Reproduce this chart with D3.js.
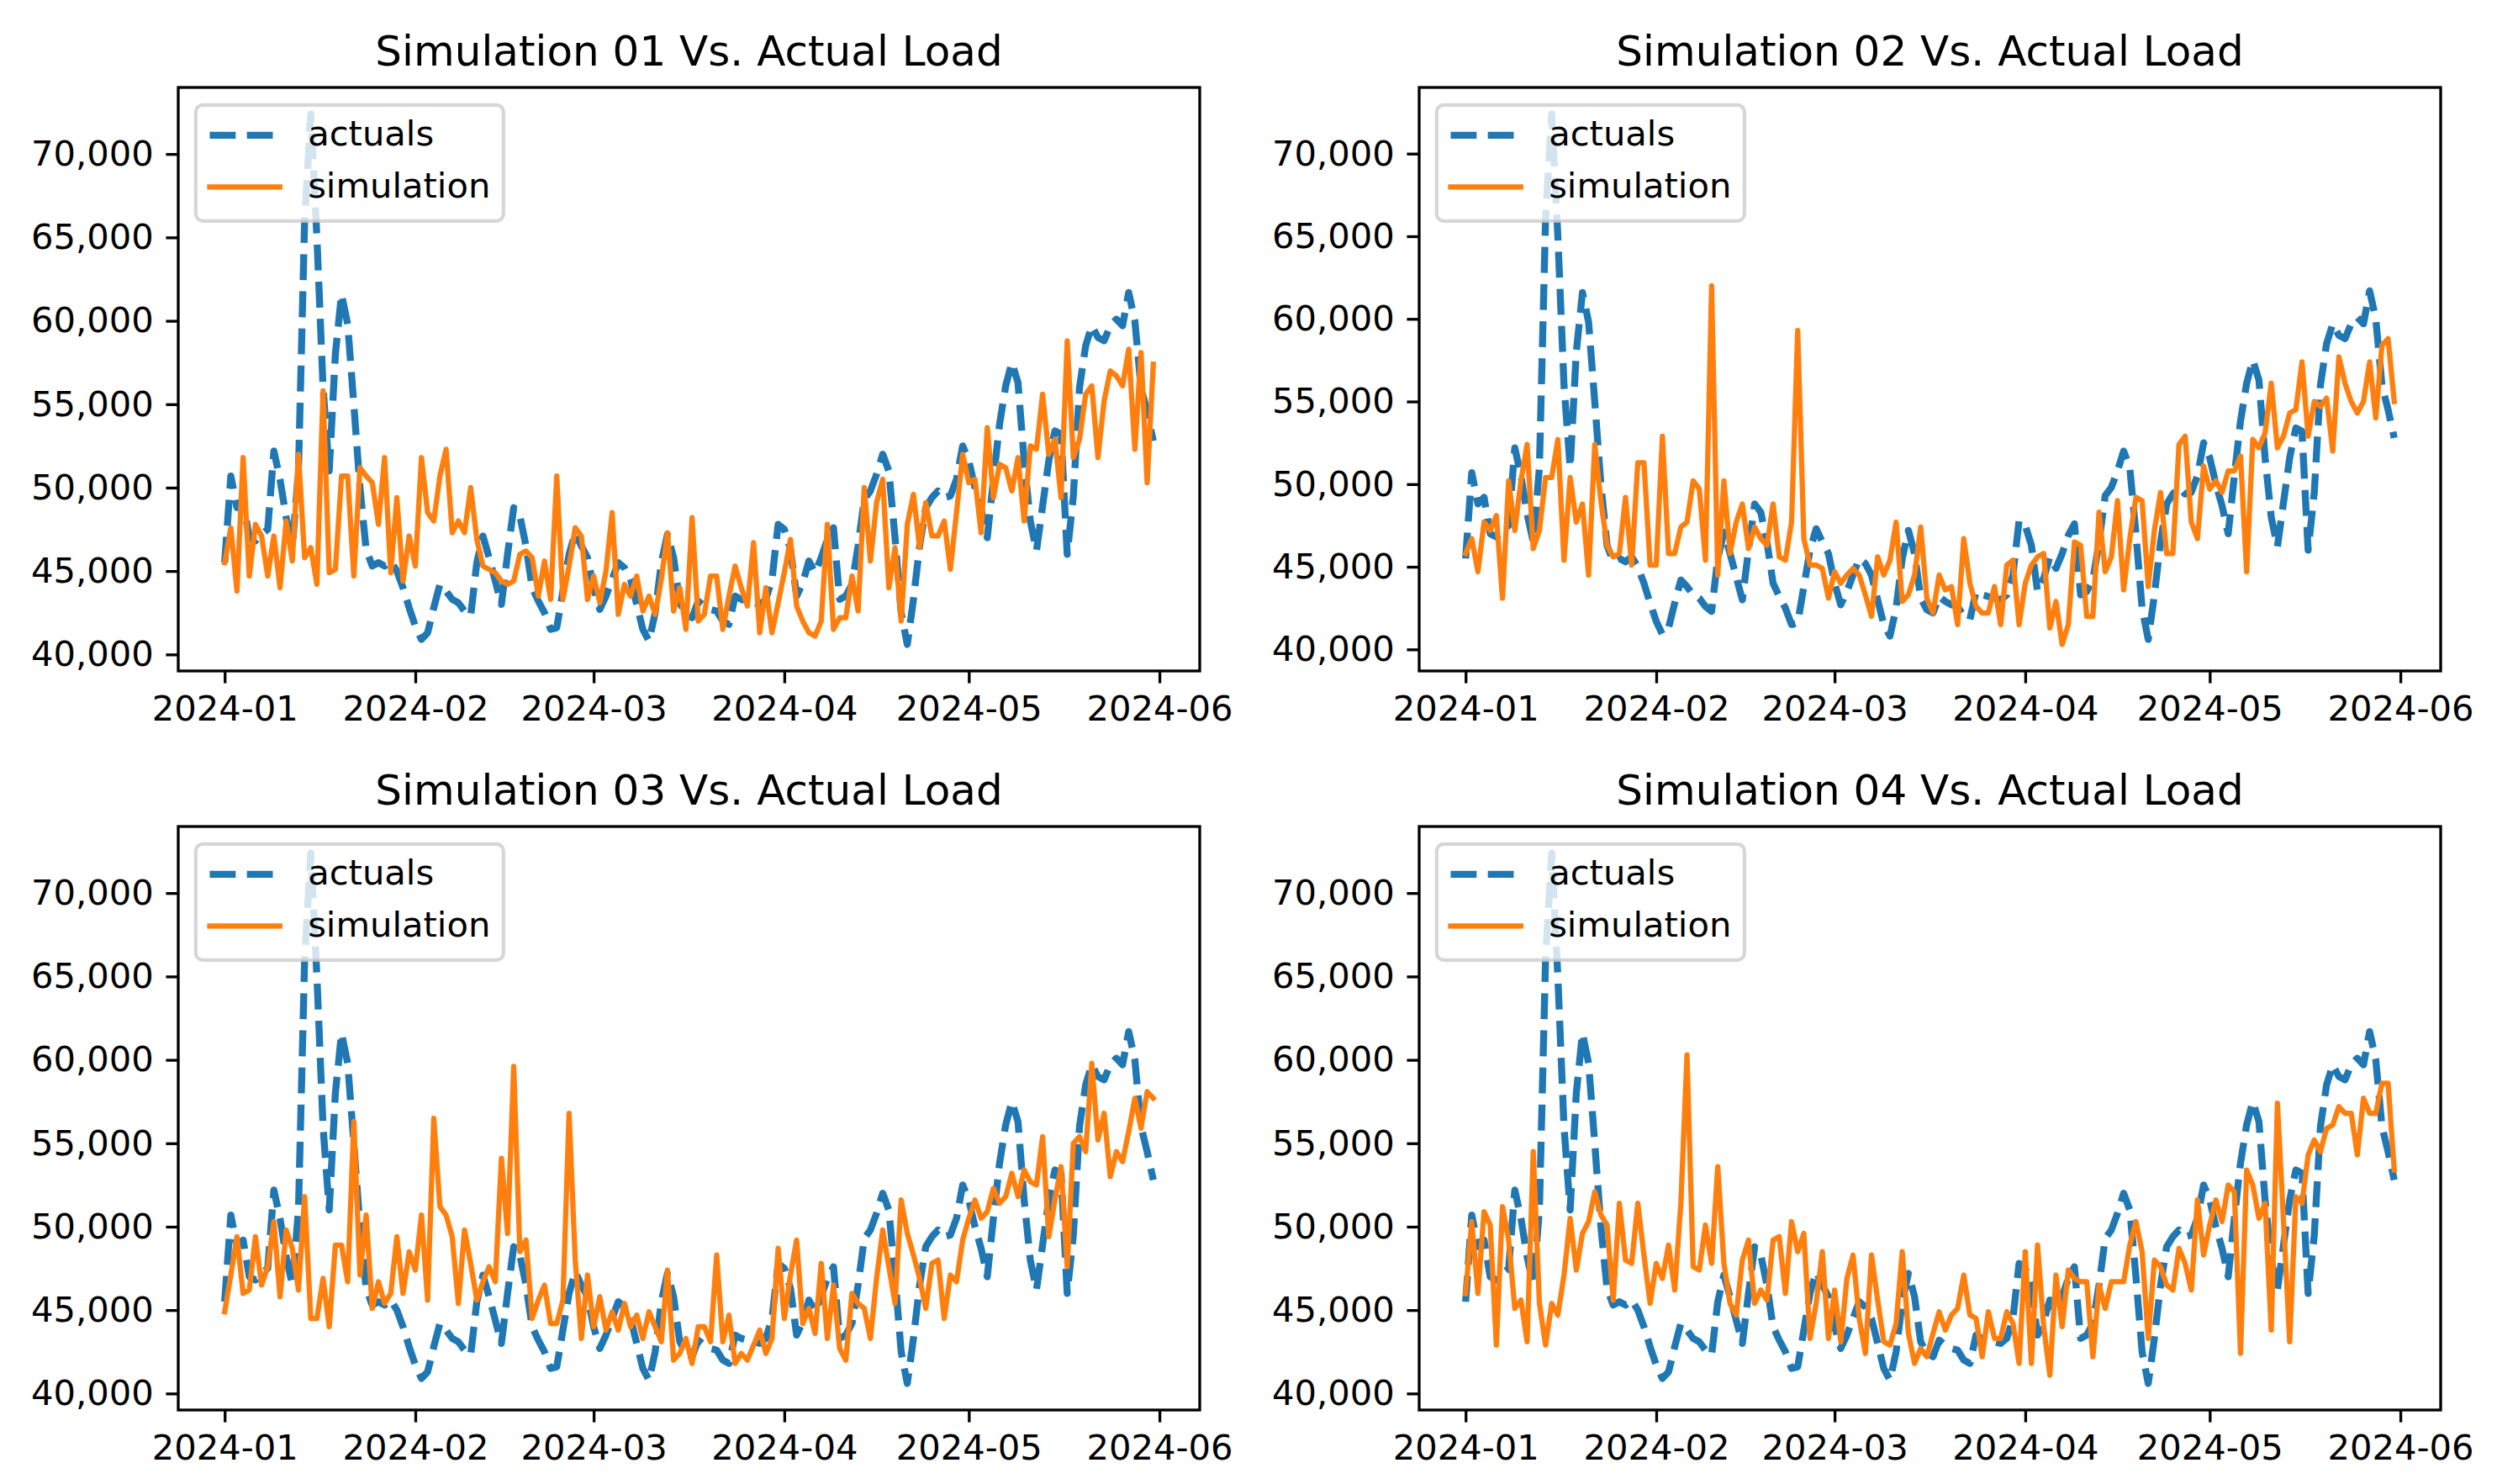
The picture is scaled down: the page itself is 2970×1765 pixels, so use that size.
<!DOCTYPE html>
<html>
<head>
<meta charset="utf-8">
<script src="https://cdn.jsdelivr.net/npm/d3@7"></script>
<style>
  html, body { margin: 0; padding: 0; background: #ffffff; }
  svg { display: block; }
</style>
</head>
<body>
<script>
// ---------------- DATA ----------------
const startDate = "2024-01-01";

const actuals = [
  45500, 50700, 48800, 49200, 47000, 46800, 47200, 47500, 52200, 50500,
  48200, 46500, 51000, 66000, 72400, 65000, 56000, 51000, 58000, 61600,
  59800, 55000, 50000, 46300, 45300, 45500, 45300, 45600, 45000, 44000,
  42800, 41700, 40900, 41300, 42800, 44200, 43800, 43300, 43100, 42600,
  42300, 45500, 47100, 45800, 44400, 43000, 46000, 48800, 48300, 46500,
  44000, 43200, 42500, 41500, 41600, 43800, 46000, 47300, 46500, 45800,
  44000, 42700, 43500, 44500, 45500, 45200, 44500, 43000, 41500, 40800,
  42500, 45500, 47200, 45800, 43100, 42400, 42200, 43200, 42900, 42700,
  42600, 42000, 41800, 43500, 43300, 43200, 43100, 43000, 43300, 44500,
  47800, 47500, 46300, 43500, 44300, 45600, 44900, 45800, 46900, 47600,
  43300, 43500, 44200, 46500, 49300, 49800, 50800, 52000, 51000, 47000,
  42500, 40600, 43300, 46500, 48800, 49400, 49800, 49400, 49500, 50500,
  52500, 51600, 50000, 48700, 47000, 50500, 53800, 56100, 57500, 56300,
  51600, 48000, 46200, 48900, 51600, 53400, 53200, 46000, 49500, 56000,
  58500, 59700, 59000, 58800, 59700, 60100, 59700, 61700, 60000, 56000,
  54500, 52800
];

const sim01 = [
  45500, 47600, 43800, 51800, 44700, 47800, 47100, 44700, 47100, 44000,
  48000, 45600, 52000, 45800, 46400, 44200, 55800, 44900, 45100, 50700,
  50700, 44700, 51200, 50700, 50300, 47800, 51800, 44900, 49400, 44400,
  47100, 45300, 51800, 48500, 48000, 50700, 52300, 47300, 48000, 47300,
  50000, 46900, 45300, 45100, 44900, 44400, 44200, 44400, 46000, 46200,
  45800, 43500, 45600, 43300, 50700, 43300, 45300, 47600, 47100, 43300,
  44700, 43100, 45000, 48500, 42400, 44200, 43500, 44700, 42600, 43500,
  42400, 44500, 47300, 42600, 44000, 41500, 48200, 42000, 42400, 44700,
  44700, 41500, 43500, 45300, 44000, 42900, 46700, 41300, 44000, 41300,
  43100, 44900, 46900, 42900, 42000, 41300, 41100, 42000, 47800, 41500,
  42200, 42200, 44700, 42600, 50000, 45600, 49100, 50500, 44000, 46400,
  42000, 47800, 49600, 46400, 49100, 47100, 47100, 48000, 45100, 48500,
  52000, 50300, 50500, 47300, 53600, 49400, 51400, 51200, 49800, 51800,
  48000, 52500, 52300, 55600, 52000, 52900, 49400, 58800, 51800, 52900,
  55600, 56100, 51800, 55200, 57000, 56700, 56100, 58300, 52300, 58100,
  50300, 57400
];

const sim02 = [
  45800, 46700, 44700, 47700, 47200, 48100, 43100, 50200, 47200, 50200,
  52400, 46100, 47200, 50400, 50400, 52700, 45400, 50400, 47700, 48800,
  44500, 52400, 49000, 46300, 45600, 45800, 49200, 45100, 51300, 51300,
  45100, 45100, 52900, 45800, 45800, 47400, 47700, 50200, 49700, 45400,
  62000, 44500, 50200, 45800, 47700, 48800, 46100, 47400, 46700, 46300,
  48800, 45600, 45400, 47700, 59300, 46700, 45100, 45100, 44900, 43100,
  44700, 44000, 44500, 44900, 44500, 43300, 42000, 45600, 44500, 45400,
  47700, 42900, 43300, 44500, 47400, 43100, 42200, 44500, 43600, 43800,
  41500, 46700, 44000, 42600, 42200, 42200, 43800, 41500, 45100, 45400,
  41500, 44000, 45100, 45600, 45800, 41300, 42900, 40300, 41500, 46500,
  46300, 42000, 42000, 48300, 44700, 45600, 49000, 43600, 46700, 49200,
  49000, 43800, 47200, 49500, 45800, 45800, 52400, 52900, 47700, 46700,
  51100, 49700, 50200, 49500, 50800, 50800, 51700, 44700, 52700, 52200,
  53100, 56100, 52200, 52900, 54300, 54500, 57400, 52900, 55000, 54700,
  55200, 52000, 57700, 56100, 55000, 54300, 55000, 57400, 54000, 58400,
  58800, 55000
];

const sim03 = [
  44900, 47100, 49400, 46000, 46200, 49400, 46500, 47600, 50300, 45800,
  49800, 48700, 46200, 51800, 44500, 44500, 46900, 44000, 48900, 48900,
  46700, 56300, 47100, 50700, 45100, 46700, 45400, 46000, 49400, 46000,
  48500, 47400, 50700, 45600, 56500, 51200, 50700, 49400, 45400, 49800,
  47800, 45600, 46700, 47600, 46700, 54100, 49600, 59600, 48500, 49200,
  44500, 45600, 46500, 44200, 44200, 45600, 56800, 48000, 43300, 47100,
  44000, 45800, 43800, 44900, 43800, 45400, 44000, 44700, 43300, 44900,
  44000, 43100, 47400, 42000, 42400, 43300, 41800, 44000, 44000, 43100,
  48300, 43100, 44700, 41800, 42400, 42000, 42900, 43800, 42400, 43300,
  48700, 44500, 47100, 49200, 44200, 45100, 43600, 47800, 43300, 46500,
  42700, 42000, 46000, 45400, 45100, 43300, 46900, 49800, 47600, 45400,
  51600, 49600, 48300, 46900, 45100, 47800, 48000, 44500, 47100, 46700,
  49200, 50500, 51600, 50500, 50900, 52300, 51400, 51800, 53200, 51800,
  53400, 52700, 52500, 55400, 49400, 51600, 53600, 47600, 55000, 55400,
  54500, 59800, 55200, 56800, 53000, 54500, 53900, 55700, 57700, 55900,
  58100, 57700
];

const sim04 = [
  46000, 50300, 46000, 50900, 50100, 42900, 51200, 49200, 45100, 45600,
  43100, 54500, 45400, 42900, 45400, 44700, 47100, 50500, 47400, 49600,
  50300, 52100, 50700, 50100, 45600, 51400, 48000, 47800, 51400, 48300,
  45400, 47800, 46900, 48900, 46200, 51400, 60300, 47600, 47400, 50100,
  47800, 53600, 47800, 45400, 44700, 48000, 49200, 45400, 46200, 45600,
  49200, 49400, 46000, 50300, 48500, 49600, 43300, 45400, 48500, 43300,
  46200, 43100, 46900, 48300, 44500, 42400, 48300, 45600, 43100, 42900,
  44200, 48500, 43600, 41800, 42700, 42200, 43600, 44900, 43800, 44700,
  45100, 47100, 44700, 44500, 42200, 44900, 43300, 43300, 44900, 44200,
  41800, 48500, 41800, 48900, 44000, 41100, 47100, 44000, 47400, 46900,
  46700, 46700, 42200, 46500, 45100, 46700, 46700, 46700, 48900, 50300,
  48500, 43300, 48000, 47600, 46500, 46200, 48700, 47800, 46200, 51600,
  48300, 50100, 51600, 50300, 52500, 52100, 42400, 53400, 52500, 50500,
  51400, 43800, 57400, 50300, 43100, 51800, 51400, 54300, 55200, 54500,
  55900, 56100, 57200, 56800, 56800, 54300, 57700, 56800, 56800, 58600,
  58600, 53400
];

const simulations = [sim01, sim02, sim03, sim04];
const panelTitles = [
  "Simulation 01 Vs. Actual Load",
  "Simulation 02 Vs. Actual Load",
  "Simulation 03 Vs. Actual Load",
  "Simulation 04 Vs. Actual Load"
];
const yTickValues = [40000, 45000, 50000, 55000, 60000, 65000, 70000];
const xTickLabels = ["2024-01", "2024-02", "2024-03", "2024-04", "2024-05", "2024-06"];
const legendLabels = ["actuals", "simulation"];

// ---------------- LAYOUT / STYLE ----------------
const W = 2970, H = 1765;
const PT = 300 / 72;                       // px per point
const panelPos = [
  { left: 212, top: 104 },
  { left: 1688, top: 104 },
  { left: 212, top: 983 },
  { left: 1688, top: 983 }
];
const PW = 1215, PH = 694;
const tickFont = 10 * PT;   // ~41.7px
const titleFont = 12 * PT;  // 50px
const blue = "#1f77b4", orange = "#ff7f0e";
const blueW = 2 * PT, orangeW = 1.5 * PT;
const dash = [3.7 * blueW, 1.6 * blueW].join(",");

const svg = d3.select("body").append("svg")
  .attr("width", W).attr("height", H)
  .attr("viewBox", `0 0 ${W} ${H}`)
  .style("font-family", "'DejaVu Sans', 'Liberation Sans', sans-serif");

svg.append("rect").attr("width", W).attr("height", H).attr("fill", "#ffffff");

const parseDay = d3.utcParse("%Y-%m-%d");
const parseMonth = d3.utcParse("%Y-%m");
const start = parseDay(startDate);
const dates = actuals.map((_, i) => d3.utcDay.offset(start, i));
const xTickDates = xTickLabels.map(parseMonth);

panelPos.forEach((p, k) => {
  const sim = simulations[k];
  const g = svg.append("g").attr("transform", `translate(${p.left},${p.top})`);

  // x scale with matplotlib-like 5% margins
  const t0 = +dates[0], t1 = +dates[dates.length - 1];
  const tpad = 0.05 * (t1 - t0);
  const x = d3.scaleUtc().domain([new Date(t0 - tpad), new Date(t1 + tpad)]).range([0, PW]);

  const all = actuals.concat(sim);
  const lo = d3.min(all), hi = d3.max(all);
  const vpad = 0.05 * (hi - lo);
  const y = d3.scaleLinear().domain([lo - vpad, hi + vpad]).range([PH, 0]);

  const clipId = "clip" + k;
  g.append("clipPath").attr("id", clipId)
    .append("rect").attr("width", PW).attr("height", PH);

  const line = d3.line()
    .x((d, i) => x(dates[i]))
    .y(d => y(d));

  const plot = g.append("g").attr("clip-path", `url(#${clipId})`);
  plot.append("path").datum(actuals)
    .attr("d", line)
    .attr("fill", "none")
    .attr("stroke", blue)
    .attr("stroke-width", blueW)
    .attr("stroke-dasharray", dash)
    .attr("stroke-linecap", "butt")
    .attr("stroke-linejoin", "round");
  plot.append("path").datum(sim)
    .attr("d", line)
    .attr("fill", "none")
    .attr("stroke", orange)
    .attr("stroke-width", orangeW)
    .attr("stroke-linecap", "square")
    .attr("stroke-linejoin", "round");

  // axes
  const tickLen = 3.5 * PT, tickPad = 3.5 * PT, axW = 0.8 * PT;
  const xAxis = d3.axisBottom(x)
    .tickValues(xTickDates)
    .tickFormat((d, i) => xTickLabels[i])
    .tickSize(tickLen).tickPadding(tickPad).tickSizeOuter(0);
  const gx = g.append("g").attr("transform", `translate(0,${PH})`).call(xAxis);
  const yAxis = d3.axisLeft(y)
    .tickValues(yTickValues)
    .tickFormat(d3.format(","))
    .tickSize(tickLen).tickPadding(tickPad).tickSizeOuter(0);
  const gy = g.append("g").call(yAxis);
  [gx, gy].forEach(a => {
    a.select(".domain").remove();
    a.selectAll(".tick line").attr("stroke", "#000").attr("stroke-width", axW);
    a.selectAll(".tick text")
      .attr("fill", "#000")
      .style("font-size", tickFont + "px")
      .style("font-family", "'DejaVu Sans', sans-serif");
  });

  // frame (spines)
  g.append("rect")
    .attr("width", PW).attr("height", PH)
    .attr("fill", "none").attr("stroke", "#000").attr("stroke-width", axW);

  // title
  g.append("text")
    .attr("x", PW / 2).attr("y", -26)
    .attr("text-anchor", "middle")
    .attr("fill", "#000")
    .style("font-size", titleFont + "px")
    .text(panelTitles[k]);

  // legend
  const lg = g.append("g").attr("transform", `translate(${0.5 * tickFont},${0.5 * tickFont})`);
  lg.append("rect")
    .attr("width", 366).attr("height", 138)
    .attr("rx", 0.2 * tickFont).attr("ry", 0.2 * tickFont)
    .attr("fill", "#ffffff").attr("fill-opacity", 0.8)
    .attr("stroke", "#cccccc").attr("stroke-opacity", 0.8)
    .attr("stroke-width", 1 * PT);
  const hx0 = 0.4 * tickFont, hx1 = hx0 + 2 * tickFont;
  const rows = [36, 97.5];
  lg.append("line")
    .attr("x1", hx0).attr("x2", hx1).attr("y1", rows[0]).attr("y2", rows[0])
    .attr("stroke", blue).attr("stroke-width", blueW)
    .attr("stroke-dasharray", dash).attr("stroke-linecap", "butt");
  lg.append("line")
    .attr("x1", hx0).attr("x2", hx1).attr("y1", rows[1]).attr("y2", rows[1])
    .attr("stroke", orange).attr("stroke-width", orangeW)
    .attr("stroke-linecap", "square");
  legendLabels.forEach((lab, i) => {
    lg.append("text")
      .attr("x", hx1 + 0.8 * tickFont)
      .attr("y", rows[i] + 12.5)
      .attr("fill", "#000")
      .style("font-size", tickFont + "px")
      .text(lab);
  });
});
</script>
</body>
</html>
